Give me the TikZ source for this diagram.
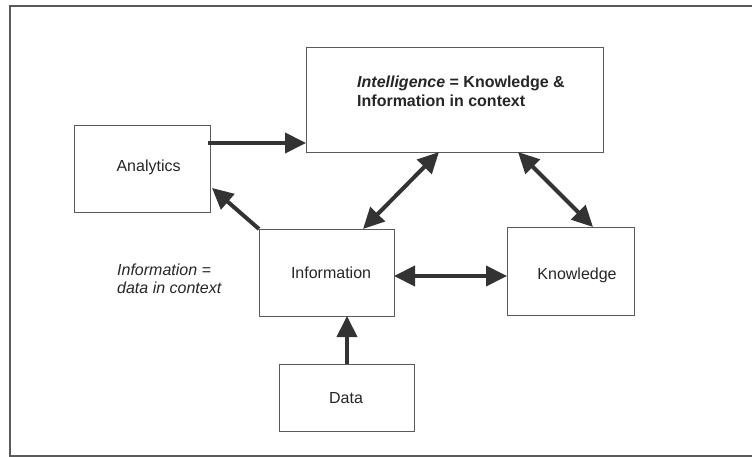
\documentclass[tikz,border=0pt]{standalone}
\usepackage{fontspec}
\setmainfont{Liberation Sans}
\usetikzlibrary{arrows.meta}
\definecolor{arr}{HTML}{333333}
\definecolor{edge}{HTML}{5A5A5A}
\begin{document}
\begin{tikzpicture}[x=1pt,y=-1pt,
  box/.style={draw=edge,line width=1.1pt,fill=white,anchor=north west,inner sep=0pt},
  lbl/.style={font=\fontsize{16}{19}\selectfont,text=black!85,inner sep=0pt},
  conn/.style={draw=arr,line width=4pt,-{Triangle[length=21pt,width=20pt]}},
  conn2/.style={draw=arr,line width=4pt,{Triangle[length=21pt,width=20pt]}-{Triangle[length=21pt,width=20pt]}}]
\useasboundingbox (0,0) rectangle (752,457);
\fill[white] (0,0) rectangle (752,457);
\draw[draw=edge,line width=1.3pt] (752,6) -- (10,6) -- (10,456) -- (752,456);
% boxes
\node[box,minimum width=297pt,minimum height=105pt] (intel) at (306,47) {};
\node[box,minimum width=136pt,minimum height=87pt] (anal) at (74,125) {};
\node[box,minimum width=135pt,minimum height=87pt] (info) at (259,229) {};
\node[box,minimum width=127pt,minimum height=88pt] (know) at (507,227) {};
\node[box,minimum width=135pt,minimum height=67pt] (data) at (279,364) {};
% texts
\node[lbl,anchor=base west,align=left,font=\fontsize{16}{19}\selectfont\bfseries] (inteltxt) at (357,107) {\textit{Intelligence} = Knowledge \&\\Information in context};
\node[lbl] (analtxt) at ([xshift=6pt,yshift=2pt]anal.center) {Analytics};
\node[lbl] (infotxt) at ([xshift=4pt]info.center) {Information};
\node[lbl] (knowtxt) at ([xshift=6pt,yshift=-4pt]know.center) {Knowledge};
\node[lbl] (datatxt) at ([xshift=-1pt]data.center) {Data};
\node[lbl,anchor=base west,align=left,font=\fontsize{16}{18}\selectfont\itshape] (infodef) at (117,293) {Information =\\data in context};
% connector coordinates
\coordinate (a1) at (208,143);
\coordinate (a2) at (306,143);
\coordinate (b1) at (259,229);
\coordinate (b2) at (212,188);
\coordinate (c1) at (363,229);
\coordinate (c2) at (439,152);
\coordinate (d1) at (518,152);
\coordinate (d2) at (593,227);
\coordinate (e1) at (394,276);
\coordinate (e2) at (507,276);
\coordinate (f1) at (347,364);
\coordinate (f2) at (347,316);
\draw[conn] (a1) -- (a2);
\draw[conn] (b1) -- (b2);
\draw[conn2] (c1) -- (c2);
\draw[conn2] (d1) -- (d2);
\draw[conn2] (e1) -- (e2);
\draw[conn] (f1) -- (f2);
\end{tikzpicture}
\end{document}
